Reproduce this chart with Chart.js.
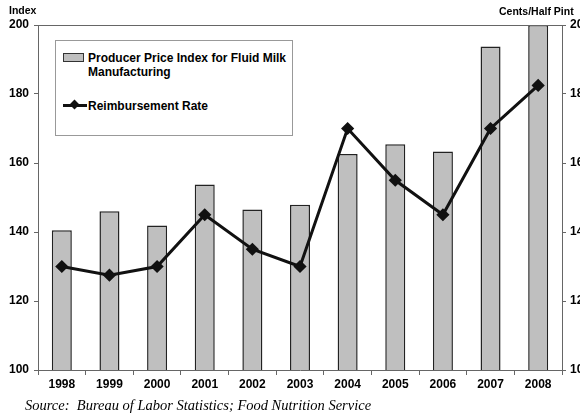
<!DOCTYPE html>
<html>
<head>
<meta charset="utf-8">
<script src="https://cdn.jsdelivr.net/npm/chart.js@4"></script>
<style>
  html, body { margin: 0; padding: 0; background: #fff; }
  #wrap { position: relative; width: 580px; height: 416px; overflow: hidden; font-family: "Liberation Sans", Arial, sans-serif; }
  #grafico { position: absolute; left: 0; top: 0; }
  .lbl { position: absolute; font-weight: bold; color: #000; white-space: nowrap; }
  #leyenda { position: absolute; left: 55px; top: 40px; width: 236px; height: 94px; border: 1px solid #999; background: #fff; }
  #leyenda .txt { position: absolute; left: 32px; font-weight: bold; font-size: 12px; line-height: 14px; color: #000; white-space: nowrap; }
  #fuente { position: absolute; left: 25px; top: 397px; font-family: "Liberation Serif", "Times New Roman", serif; font-style: italic; font-size: 14.5px; color: #000; white-space: nowrap; }
</style>
</head>
<body>
<div id="wrap">
  <canvas id="grafico" width="580" height="416"></canvas>
  <div class="lbl" style="left:9px; top:4px; font-size:10.5px;">Index</div>
  <div class="lbl" style="left:499px; top:5px; font-size:10.5px;">Cents/Half Pint</div>
  <div id="leyenda">
    <div style="position:absolute; left:7px; top:12px; width:19px; height:7px; background:#bfbfbf; border:1px solid #333;"></div>
    <div class="txt" style="top:10px;">Producer Price Index for Fluid Milk<br>Manufacturing</div>
    <div style="position:absolute; left:7px; top:63px; width:24px; height:3px; background:#111;"></div>
    <div style="position:absolute; left:15px; top:60px; width:7px; height:7px; background:#111; transform:rotate(45deg);"></div>
    <div class="txt" style="top:58px;">Reimbursement Rate</div>
  </div>
  <div id="fuente">Source:&nbsp; Bureau of Labor Statistics; Food Nutrition Service</div>
</div>
<script>
// Datos
const years = ['1998', '1999', '2000', '2001', '2002', '2003', '2004', '2005', '2006', '2007', '2008'];
const priceIndex = [140.5, 146.0, 141.9, 153.8, 146.5, 147.9, 162.6, 165.4, 163.3, 193.8, 200];
const reimbursementRate = [13.0, 12.75, 13.0, 14.5, 13.5, 13.0, 17.0, 15.5, 14.5, 17.0, 18.25];
const indexTicks = [100, 120, 140, 160, 180, 200];
const centsTicks = [10, 12, 14, 16, 18, 20];

const frameColor = '#666';
const tickFont = { family: '"Liberation Sans", Arial, sans-serif', size: 12, weight: 'bold' };

// Línea superior del marco
const topFrame = {
    id: 'topFrame',
    afterDraw(chart) {
        const { ctx, chartArea } = chart;
        ctx.save();
        ctx.strokeStyle = frameColor;
        ctx.lineWidth = 1;
        ctx.beginPath();
        ctx.moveTo(chartArea.left, chartArea.top + 0.5);
        ctx.lineTo(chartArea.right, chartArea.top + 0.5);
        ctx.stroke();
        ctx.restore();
    }
};

new Chart(document.getElementById('grafico').getContext('2d'), {
    data: {
        labels: years,
        datasets: [
            {
                type: 'line',
                label: 'Reimbursement Rate',
                data: reimbursementRate,
                yAxisID: 'y1',
                borderColor: '#111',
                backgroundColor: '#111',
                borderWidth: 3,
                pointStyle: 'rectRot',
                pointRadius: 4.5,
                tension: 0,
                order: 0
            },
            {
                type: 'bar',
                label: 'Producer Price Index for Fluid Milk Manufacturing',
                data: priceIndex,
                yAxisID: 'y',
                backgroundColor: '#bfbfbf',
                borderColor: '#222',
                borderWidth: 1.5,
                barPercentage: 0.84,
                categoryPercentage: 0.5,
                order: 1
            }
        ]
    },
    options: {
        responsive: false,
        animation: false,
        devicePixelRatio: 1,
        layout: { padding: { top: 25, bottom: 20, left: 0, right: 0 } },
        plugins: { legend: { display: false }, tooltip: { enabled: false } },
        scales: {
            x: {
                offset: true,
                grid: { offset: true, drawOnChartArea: false, tickLength: 5, color: frameColor },
                border: { color: frameColor, width: 1 },
                ticks: { color: '#000', font: tickFont, padding: 2, maxRotation: 0 },
                afterFit: s => { s.height = 26; }
            },
            y: {
                position: 'left',
                min: 100,
                max: 200,
                afterBuildTicks: s => { s.ticks = indexTicks.map(v => ({ value: v })); },
                grid: { drawOnChartArea: false, tickLength: 4, color: frameColor },
                border: { color: frameColor, width: 1 },
                ticks: { color: '#000', font: tickFont, padding: 5 },
                afterFit: s => { s.width = 38; }
            },
            y1: {
                position: 'right',
                min: 10,
                max: 20,
                afterBuildTicks: s => { s.ticks = centsTicks.map(v => ({ value: v })); },
                grid: { drawOnChartArea: false, tickLength: 4, color: frameColor },
                border: { color: frameColor, width: 1 },
                ticks: { color: '#000', font: tickFont, padding: 4 },
                afterFit: s => { s.width = 18; }
            }
        }
    },
    plugins: [topFrame]
});
</script>
</body>
</html>
